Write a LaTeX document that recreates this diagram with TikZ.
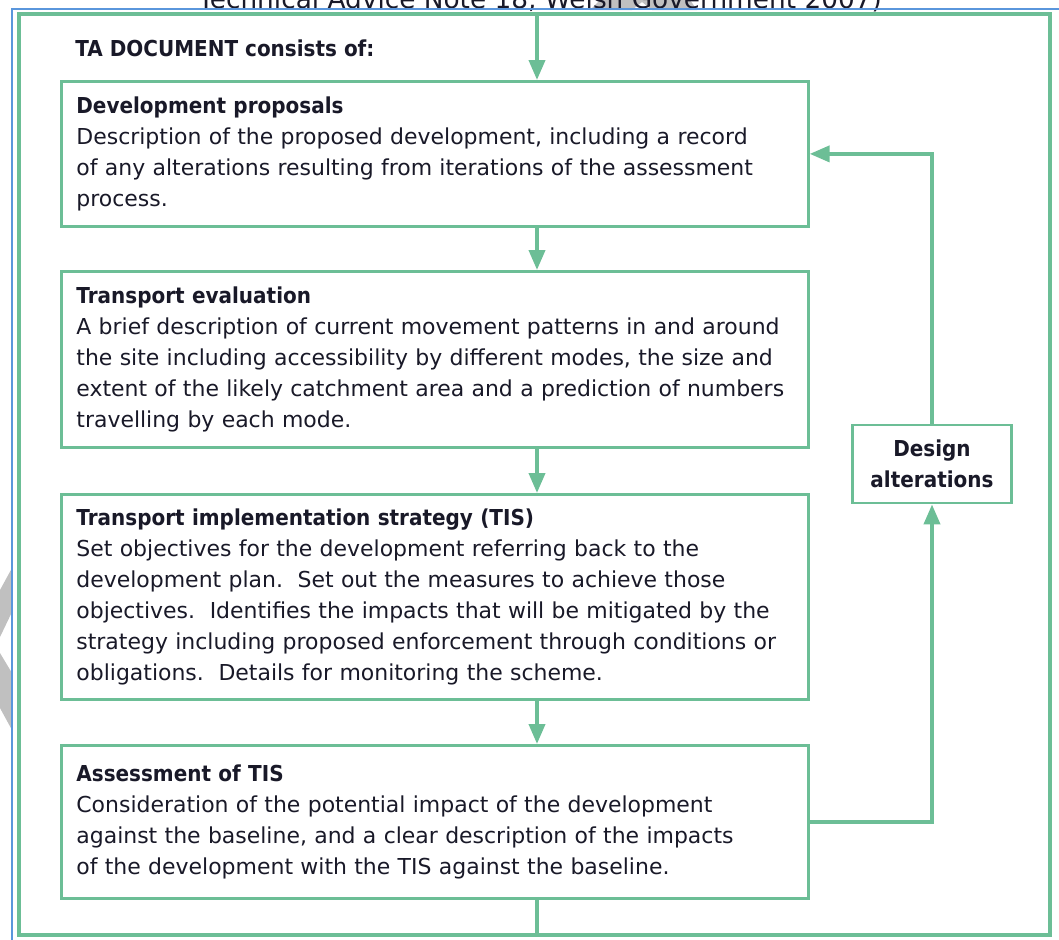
\documentclass[tikz,border=0pt]{standalone}
\usepackage{fontspec}
\setmainfont{DejaVu Sans}
\newfontfamily\headfont{DejaVu Sans}[FakeStretch=0.91]
\usetikzlibrary{arrows.meta}
\definecolor{tagreen}{RGB}{108,190,150}
\definecolor{tablue}{RGB}{90,150,220}
\definecolor{tatext}{RGB}{25,25,40}
\definecolor{wmgrey}{RGB}{192,192,192}

\begin{document}
\begin{tikzpicture}[x=0.02cm, y=-0.02cm,
  stagebox/.style={draw=tagreen, line width=1.6pt, anchor=north west,
    text width=14.34cm, inner xsep=0.3cm, align=left, text=tatext,
    font=\fontsize{12.5}{17.6}\selectfont},
  loopbox/.style={draw=tagreen, line width=1.6pt, minimum width=3.18cm,
    minimum height=1.56cm, align=center, text=tatext,
    font=\headfont\bfseries\fontsize{12.5}{17.6}\selectfont},
  flow/.style={draw=tagreen, line width=2.2pt,
    -{Triangle[length=0.4cm, width=0.32cm]}},
  link/.style={draw=tagreen, line width=2.2pt}]
\useasboundingbox (0,0) rectangle (1059,940);

% watermark bits
\fill[wmgrey] (600,0) -- (690,0) -- (697,10) -- (652,10) -- (642,2) -- (632,10) -- (590,10) -- cycle;
\fill[wmgrey] (0,590) -- (12,568) -- (12,612) -- (0,637) -- cycle;
\fill[wmgrey] (0,653) -- (12,673) -- (12,730) -- (0,708) -- cycle;

% cut-off caption
\node[anchor=base, inner sep=0pt, text=tatext, font=\fontsize{15}{18}\selectfont]
  (caption) at (540,8) {Technical Advice Note 18, Welsh Government 2007)};

% frame
\draw[tablue, line width=1pt] (12,940) -- (12,9) -- (1059,9);
\draw[tagreen, line width=2.4pt] (19,14) rectangle (1050,935);

\node[anchor=base west, inner sep=0pt, text=tatext,
  font=\headfont\bfseries\fontsize{12.5}{17.6}\selectfont] (title) at (75,56) {TA DOCUMENT consists of:};

\node[stagebox, minimum height=2.9cm] (dev) at (60,80)
  {{\headfont\bfseries Development proposals}\\
   Description of the proposed development, including a record\\
   of any alterations resulting from iterations of the assessment\\
   process.};
\node[stagebox, minimum height=3.52cm] (eval) at (60,270)
  {{\headfont\bfseries Transport evaluation}\\
   A brief description of current movement patterns in and around\\
   the site including accessibility by different modes, the size and\\
   extent of the likely catchment area and a prediction of numbers\\
   travelling by each mode.};
\node[stagebox, minimum height=4.1cm] (tis) at (60,493)
  {{\headfont\bfseries Transport implementation strategy (TIS)}\\
   Set objectives for the development referring back to the\\
   development plan.\ \ Set out the measures to achieve those\\
   objectives.\ \ Identifies the impacts that will be mitigated by the\\
   strategy including proposed enforcement through conditions or\\
   obligations.\ \ Details for monitoring the scheme.};
\node[stagebox, minimum height=3.06cm] (ats) at (60,744)
  {{\headfont\bfseries Assessment of TIS}\\
   Consideration of the potential impact of the development\\
   against the baseline, and a clear description of the impacts\\
   of the development with the TIS against the baseline.};

\node[loopbox] (design) at (932,464) {Design\\alterations};

\coordinate (in) at (537,14);
\coordinate (out) at (537,935);
\draw[flow] (in) -- (in |- dev.north);
\draw[flow] (in |- dev.south) -- (in |- eval.north);
\draw[flow] (in |- eval.south) -- (in |- tis.north);
\draw[flow] (in |- tis.south) -- (in |- ats.north);
\draw[link] (in |- ats.south) -- (out);
\draw[flow] (ats.east) -| (design.south);
\draw[flow] (design.north) |- (dev.east);
\end{tikzpicture}
\end{document}
